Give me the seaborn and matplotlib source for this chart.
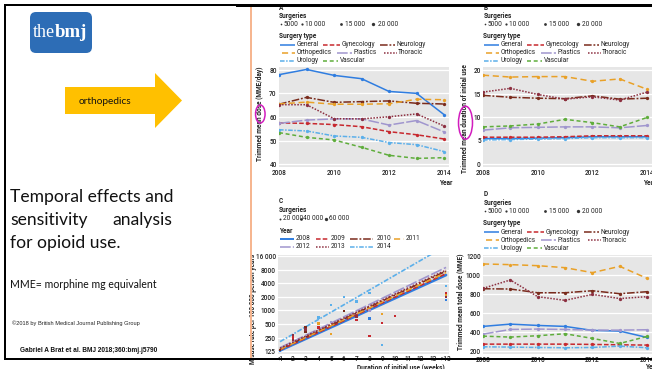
import matplotlib
matplotlib.use("Agg")
import numpy as np
import pandas as pd
import matplotlib.pyplot as plt
import seaborn as sns
from matplotlib.patches import FancyBboxPatch, Polygon, Ellipse, Rectangle

# ---------------------------------------------------------------- data
years = [2008, 2009, 2010, 2011, 2012, 2013, 2014]
surgery_types = ["General", "Gynecology", "Neurology", "Orthopedics",
                 "Plastics", "Thoracic", "Urology", "Vascular"]

# A: trimmed mean dose (MME/day)
dose_per_day = {
    "General":     [77.9, 80.1, 77.6, 76.2, 70.8, 70.0, 61.0],
    "Gynecology":  [57.5, 57.3, 56.8, 55.9, 53.8, 52.5, 50.7],
    "Neurology":   [65.4, 68.3, 66.2, 66.5, 66.8, 65.8, 65.5],
    "Orthopedics": [65.5, 66.3, 65.4, 65.4, 65.6, 67.5, 67.3],
    "Plastics":    [57.3, 58.7, 59.2, 59.2, 56.6, 58.5, 53.7],
    "Thoracic":    [65.2, 65.2, 59.3, 59.2, 60.1, 61.3, 56.2],
    "Urology":     [54.6, 54.1, 52.0, 51.4, 49.2, 48.3, 45.4],
    "Vascular":    [53.4, 51.4, 50.3, 47.2, 43.8, 42.5, 42.8],
}

# B: trimmed mean duration of initial use
duration_initial = {
    "General":     [5.4, 5.4, 5.5, 5.6, 5.8, 5.8, 5.8],
    "Gynecology":  [5.7, 5.7, 5.7, 5.8, 6.0, 6.0, 6.0],
    "Neurology":   [14.6, 14.2, 14.0, 13.9, 14.5, 13.8, 14.0],
    "Orthopedics": [18.9, 18.5, 18.6, 18.6, 17.6, 18.1, 15.9],
    "Plastics":    [7.2, 7.7, 7.8, 7.9, 7.9, 7.7, 8.2],
    "Thoracic":    [15.3, 16.1, 14.8, 13.8, 14.3, 13.6, 15.3],
    "Urology":     [5.1, 5.2, 5.3, 5.4, 5.6, 5.6, 5.6],
    "Vascular":    [7.9, 8.1, 8.5, 9.5, 8.8, 7.9, 9.9],
}

# D: trimmed mean total dose (MME)
total_dose = {
    "General":     [458, 482, 468, 458, 416, 409, 342],
    "Gynecology":  [272, 272, 272, 272, 269, 265, 262],
    "Neurology":   [853, 850, 811, 811, 832, 801, 822],
    "Orthopedics": [1113, 1106, 1095, 1074, 1022, 1088, 962],
    "Plastics":    [377, 426, 430, 426, 419, 419, 423],
    "Thoracic":    [857, 945, 770, 731, 794, 750, 770],
    "Urology":     [244, 241, 237, 234, 237, 251, 234],
    "Vascular":    [356, 346, 360, 381, 332, 279, 353],
}

# C: misuse rate per 100 000 person years by duration of initial use
week_labels = ["<1", "2", "3", "4", "5", "6", "7", "8", "9", "10",
               "11", "12", "13", ">13"]
misuse_years = ["2008", "2009", "2010", "2011", "2012", "2013", "2014"]
misuse_fit_first = [130, 134, 141, 138, 150, 146, 204]      # fitted rate, <1 week
misuse_fit_last = [6060, 6500, 7400, 6900, 8950, 7800, 27000]  # fitted rate, >13 weeks
misuse_pt_week = [1, 1, 2, 2, 2, 2, 3, 3, 3, 4, 4, 4, 5, 5, 5, 6, 6, 7, 7, 7,
                  8, 8, 8, 8, 9, 9, 9, 10, 14, 14, 14, 14, 14]
misuse_pt_rate = [127, 135, 262, 240, 220, 290, 437, 340, 380, 700, 517, 423,
                  1320, 300, 560, 2000, 985, 1570, 614, 730, 2400, 1000, 670,
                  270, 830, 536, 170, 750, 3450, 2400, 2000, 1700, 2200]
misuse_pt_year = ["2008", "2010", "2009", "2009", "2013", "2013", "2010", "2010",
                  "2013", "2014", "2011", "2009", "2014", "2011", "2012", "2014",
                  "2010", "2014", "2009", "2013", "2014", "2012", "2008", "2009",
                  "2011", "2009", "2014", "2009", "2014", "2009", "2013", "2008",
                  "2011"]

surgeries_abd = ["5000", "10 000", "15 000", "20 000"]
surgeries_c = ["20 000", "40 000", "60 000"]

# ---------------------------------------------------------------- styles
type_colors = {"General": "#2F7DE0", "Gynecology": "#C7282E",
               "Neurology": "#7A2B1C", "Orthopedics": "#E9A128",
               "Plastics": "#A096CE", "Thoracic": "#8C2F40",
               "Urology": "#5BAFEA", "Vascular": "#5FAD3C"}
type_dashes = {"General": "", "Gynecology": (3, 1.4),
               "Neurology": (5, 1.2, 1.2, 1.2), "Orthopedics": (4, 2.4),
               "Plastics": (7, 1.4), "Thoracic": (1, 1),
               "Urology": (3, 1, 1, 1), "Vascular": (2.6, 1.8)}
year_types = dict(zip(misuse_years, ["General", "Gynecology", "Neurology",
                                     "Orthopedics", "Plastics", "Thoracic",
                                     "Urology"]))
year_colors = {y: type_colors[t] for y, t in year_types.items()}
year_dashes = {y: type_dashes[t] for y, t in year_types.items()}

sns.set_style("darkgrid", {"axes.facecolor": "#E6E6E6", "grid.color": "white",
                           "axes.edgecolor": "#E6E6E6"})
plt.rcParams["font.family"] = ["Roboto", "DejaVu Sans"]
TXT = "#222222"
FS = 4.7

W, H = 652, 369
fig = plt.figure(figsize=(W / 100, H / 100), dpi=100)
fig.patch.set_facecolor("white")


def panel(x0, y0, x1, y1):
    return fig.add_axes([x0 / W, 1 - y1 / H, (x1 - x0) / W, (y1 - y0) / H])


def style_axes(ax):
    ax.grid(axis="x", visible=False)
    ax.grid(axis="y", color="white", lw=0.9)
    ax.tick_params(labelsize=FS, pad=1.6, colors=TXT, length=0)
    for sp in ax.spines.values():
        sp.set_visible(False)
    for lbl in ax.get_xticklabels() + ax.get_yticklabels():
        lbl.set_fontweight("medium")


def trend_panel(ax, table, ylim, yticks, ylabel, lab_xy, xlab_xy):
    df = (pd.DataFrame(table, index=years).rename_axis("year").reset_index()
          .melt(id_vars="year", var_name="type", value_name="value"))
    sns.lineplot(data=df, x="year", y="value", hue="type", style="type",
                 hue_order=surgery_types, style_order=surgery_types,
                 palette=type_colors, dashes=type_dashes,
                 markers={t: "o" for t in surgery_types}, markersize=2.4,
                 markeredgewidth=0, lw=1.1, legend=False, ax=ax)
    ax.set_xlim(2008, 2014.18)
    ax.set_ylim(*ylim)
    ax.set_xticks([2008, 2010, 2012, 2014])
    ax.set_yticks(yticks)
    ax.set_ylabel(ylabel, fontsize=FS, fontweight="bold", color=TXT,
                  va="center", ha="center")
    ax.yaxis.set_label_coords(*lab_xy)
    ax.set_xlabel("Year", fontsize=FS, fontweight="bold", color=TXT,
                  ha="left", va="center")
    ax.xaxis.set_label_coords(*xlab_xy)
    style_axes(ax)


# A
axA = panel(279, 67, 449, 167)
trend_panel(axA, dose_per_day, (38.86, 81.14), [40, 50, 60, 70, 80],
            "Trimmed mean dose (MME/day)", (-0.112, 0.535), (0.94, -0.16))
# B
axB = panel(483, 67, 652, 167)
trend_panel(axB, duration_initial, (-0.64, 20.64), [0, 5, 10, 15, 20],
            "Trimmed mean duration of initial use", (-0.1065, 0.48), (0.947, -0.16))
# D
axD = panel(483, 255, 652, 354)
trend_panel(axD, total_dose, (168.5, 1207), [200, 400, 600, 800, 1000, 1200],
            "Trimmed mean total dose (MME)", (-0.136, 0.525), (0.96, -0.13))

# C
axC = panel(278, 255, 449, 354)
fit = pd.DataFrame({"week": [1] * 7 + [14] * 7,
                    "rate": misuse_fit_first + misuse_fit_last,
                    "year": misuse_years * 2})
pts = pd.DataFrame({"week": misuse_pt_week, "rate": misuse_pt_rate,
                    "year": misuse_pt_year})
sns.scatterplot(data=pts, x="week", y="rate", hue="year", palette=year_colors,
                marker="s", s=3, linewidth=0, legend=False, ax=axC, zorder=3)
sns.lineplot(data=fit, x="week", y="rate", hue="year", style="year",
             hue_order=misuse_years, style_order=misuse_years,
             palette=year_colors, dashes=year_dashes, lw=1.2,
             legend=False, ax=axC)
axC.lines[0].set_linewidth(1.9)
axC.set_yscale("log", base=2)
axC.set_xlim(0.843, 14.23)
axC.set_ylim(109, 16830)
axC.set_yticks([125, 250, 500, 1000, 2000, 4000, 8000, 16000])
axC.set_yticklabels(["125", "250", "500", "1000", "2000", "4000", "8000", "16 000"])
axC.minorticks_off()
axC.set_xticks(range(1, 15))
axC.set_xticklabels(week_labels)
axC.set_ylabel("Misuse rate per 100 000 person years", fontsize=FS,
               fontweight="bold", color=TXT, va="center", ha="center")
axC.yaxis.set_label_coords(-0.146, 0.455)
axC.set_xlabel("Duration of initial use (weeks)", fontsize=FS, fontweight="bold",
               color=TXT, ha="right", va="center")
axC.xaxis.set_label_coords(0.977, -0.131)
style_axes(axC)
axC.tick_params(axis="x", pad=0.8)

# ------------------------------------------------------- slide overlay
ov = fig.add_axes([0, 0, 1, 1])
ov.set_xlim(0, W)
ov.set_ylim(H, 0)
ov.axis("off")
ov.patch.set_visible(False)

# frame
for xy, w, h in [((4, 4), 648, 1.5), ((236, 4), 416, 3.2),
                 ((4, 358.3), 648, 1.9), ((4, 4), 1.5, 356)]:
    ov.add_patch(Rectangle(xy, w, h, color="black", lw=0, zorder=5))
ov.add_patch(Rectangle((249.6, 7), 2.0, 352, color="#F6B690", lw=0, zorder=4))

# logo
ov.add_patch(FancyBboxPatch((30, 12), 62, 41, boxstyle="round,pad=0,rounding_size=6",
                            fc="#2D6DB6", ec="none"))
ov.text(32.5, 37, "the", color="white", fontsize=13, family="Liberation Serif",
        va="baseline", ha="left")
ov.text(55, 37, "bmj", color="white", fontsize=13.5, family="Liberation Serif",
        fontweight="bold", va="baseline", ha="left")

# arrow
ov.add_patch(Polygon([(65, 87), (155, 87), (155, 73), (182, 100.5), (155, 128),
                      (155, 114), (65, 114)], closed=True, fc="#FFC000", ec="none"))
ov.text(79, 101, "orthopedics", fontsize=7.3, family="Lato", color="#111111",
        va="center", ha="left")

# slide text
ov.text(10, 197, "Temporal effects and", fontsize=12.6, family="Lato",
        color="#111111", va="center", ha="left")
ov.text(10, 220, "sensitivity", fontsize=12.6, family="Lato", color="#111111",
        va="center", ha="left")
ov.text(172.5, 220, "analysis", fontsize=12.6, family="Lato", color="#111111",
        va="center", ha="right")
ov.text(10, 243, "for opioid use.", fontsize=12.6, family="Lato", color="#111111",
        va="center", ha="left")
ov.text(10, 285, "MME= morphine mg equivalent", fontsize=7.6, family="Lato",
        color="#111111", va="center", ha="left")
ov.text(12, 323, "\u00a92018 by British Medical Journal Publishing Group",
        fontsize=4.1, family="Liberation Sans", color="#222222", va="center",
        ha="left")
ov.text(20, 350, "Gabriel A Brat et al. BMJ 2018;360:bmj.j5790", fontsize=4.7,
        family="Liberation Sans", fontweight="bold", color="#111111",
        va="center", ha="left")

# highlight rings around axis-label words
ov.add_patch(Ellipse((260.3, 114), 9.5, 18, fill=False, ec="#D21DBE", lw=1.1))
ov.add_patch(Ellipse((465.5, 122.7), 14, 33, fill=False, ec="#D21DBE", lw=1.1))


def key(x1, x2, y, color, dashes, lw=1.1):
    ln, = ov.plot([x1, x2], [y, y], color=color, lw=lw, solid_capstyle="butt",
                  dash_capstyle="butt")
    if dashes:
        ln.set_dashes(dashes)


def label(x, y, s, bold=False, size=FS):
    ov.text(x, y, s, fontsize=size, color=TXT, va="center", ha="left",
            fontweight="bold" if bold else "normal")


def dots(y, xs, txs, labels, sizes):
    for x, tx, s, ms in zip(xs, txs, labels, sizes):
        ov.plot([x], [y], "o", color="#333333", ms=ms, mew=0)
        label(tx, y, s)


type_rows = [[("General", 280, 295, 296.5), ("Gynecology", 323, 340, 341.5),
              ("Neurology", 380, 395, 396.5)],
             [("Orthopedics", 281.5, 295, 296.5), ("Plastics", 337, 352, 353),
              ("Thoracic", 384, 397, 398)],
             [("Urology", 280, 295, 296.5), ("Vascular", 323, 338, 339.5)]]


def type_legend(dx, ys, letter):
    label(279 + dx, ys[0], letter, bold=True)
    label(279 + dx, ys[1], "Surgeries", bold=True)
    dots(ys[2], [280.7 + dx, 302 + dx, 340.7 + dx, 373.3 + dx],
         [283.3 + dx, 305 + dx, 345 + dx, 378 + dx], surgeries_abd,
         [1.2, 1.6, 2.0, 2.4])
    label(279 + dx, ys[3], "Surgery type", bold=True)
    for row, y in zip(type_rows, ys[4:]):
        for name, x1, x2, tx in row:
            key(x1 + dx, x2 + dx, y, type_colors[name], type_dashes[name])
            label(tx + dx, y, name)


type_legend(0, [7.5, 15.5, 24, 36, 45, 53, 61], "A")
type_legend(204.3, [7.5, 15.5, 24, 36, 45, 53, 61], "B")
type_legend(204.3, [194, 203, 211.3, 223, 232, 240, 248], "D")

# C legend
label(279, 201, "C", bold=True)
label(279, 210, "Surgeries", bold=True)
dots(219, [280, 301, 326], [282.7, 303.3, 329.3], surgeries_c, [1.4, 1.9, 2.4])
label(279, 231, "Year", bold=True)
year_keys = [("2008", 280, 294, 295.5, 239), ("2009", 316, 329, 330.7, 239),
             ("2010", 350, 373, 376.7, 239), ("2011", 394, 404, 405.5, 239),
             ("2012", 280, 294, 295.5, 247), ("2013", 316, 329, 330.7, 247),
             ("2014", 350, 373, 376.7, 247)]
for yr, x1, x2, tx, y in year_keys:
    key(x1, x2, y, year_colors[yr], year_dashes[yr], lw=1.4 if yr == "2008" else 1.1)
    label(tx, y, yr)

fig.savefig("out.png", dpi=100, facecolor="white")
